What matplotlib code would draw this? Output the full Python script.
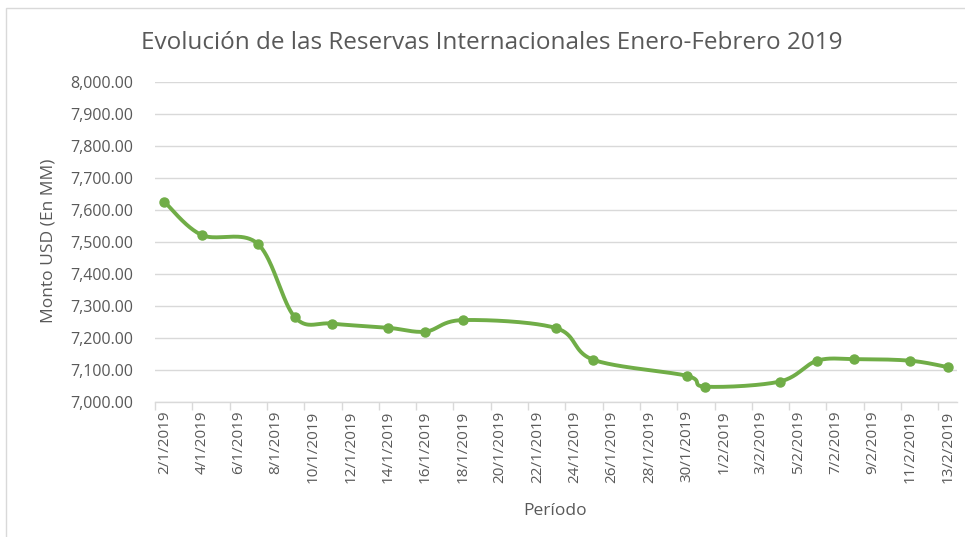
import matplotlib
matplotlib.use("Agg")
import matplotlib.pyplot as plt
import matplotlib.dates as mdates
import matplotlib.ticker as mticker
from matplotlib.patches import Rectangle
import numpy as np
from datetime import datetime, timedelta

# ---- data ----
dates = ["2/1/2019", "4/1/2019", "7/1/2019", "9/1/2019", "11/1/2019", "14/1/2019",
         "16/1/2019", "18/1/2019", "23/1/2019", "25/1/2019", "30/1/2019", "31/1/2019",
         "4/2/2019", "6/2/2019", "8/2/2019", "11/2/2019", "13/2/2019"]
values = [7626, 7522, 7495, 7265, 7245, 7232, 7220, 7256, 7231, 7132, 7082, 7048,
          7064, 7129, 7134, 7129, 7109]
title = "Evolución de las Reservas Internacionales Enero-Febrero 2019"
ylabel = "Monto USD (En MM)"
xlabel = "Período"
y_min, y_max, y_step = 7000, 8000, 100

plt.rcParams['font.family'] = ['Open Sans', 'DejaVu Sans']

dt = [datetime.strptime(d, "%d/%m/%Y") for d in dates]
xn = mdates.date2num(dt)
yv = np.array(values, dtype=float)

fig = plt.figure(figsize=(9.65, 5.37), dpi=100)
W, H = 965, 537
ax = fig.add_axes([155 / W, 1 - 402 / H, (957 - 155) / W, (402 - 82) / H])

# chart border
fig.patches.append(Rectangle((6 / W, -0.1), 1.2, (537 - 8) / H + 0.1, transform=fig.transFigure,
                             fill=False, edgecolor="#d9d9d9", linewidth=1.0))

start = xn[0] - 0.5
end = xn[-1] + 0.5
ax.set_xlim(start, end)
ax.set_ylim(y_min, y_max)

# smooth line (Excel-like Bezier smoothing) in display-scaled coordinates
sx = 18.65
sy = 0.319
P = np.column_stack([xn * sx, yv * sy])
curve = []
n = len(P)
for i in range(n - 1):
    p0 = P[i - 1] if i > 0 else P[i]
    p1 = P[i]
    p2 = P[i + 1]
    p3 = P[i + 2] if i + 2 < n else P[i + 1]
    c1 = p1 + (p2 - p0) / 6.0
    c2 = p2 - (p3 - p1) / 6.0
    t = np.linspace(0, 1, 40)[:, None]
    seg = ((1 - t) ** 3) * p1 + 3 * ((1 - t) ** 2) * t * c1 + 3 * (1 - t) * t ** 2 * c2 + t ** 3 * p2
    curve.append(seg if i == 0 else seg[1:])
curve = np.vstack(curve)
green = "#70AD47"
ax.plot(curve[:, 0] / sx, curve[:, 1] / sy, color=green, linewidth=2.8,
        solid_capstyle="round", zorder=3)
ax.plot(xn, yv, linestyle="none", marker="o", markersize=6.5, color=green, zorder=4)

# y axis
ax.yaxis.set_major_locator(mticker.MultipleLocator(y_step))
ax.yaxis.set_major_formatter(mticker.FuncFormatter(lambda v, p: f"{v:,.2f}"))
ax.grid(axis="y", color="#d9d9d9", linewidth=1.0)
ax.set_axisbelow(True)

# x axis: labels every 2 days at slot centres, tick marks at slot boundaries
label_dates = [dt[0] + timedelta(days=2 * k) for k in range(22)]
ax.set_xticks(mdates.date2num(label_dates))
ax.set_xticklabels([f"{d.day}/{d.month}/{d.year}" for d in label_dates], rotation=90)
ax.set_xticks(np.arange(start, end + 0.01, 2.0), minor=True)
ax.tick_params(axis="x", which="major", length=0, pad=6, labelsize=11, labelcolor="#595959")
ax.tick_params(axis="x", which="minor", length=6, color="#d9d9d9", width=1.0, direction="out")
ax.tick_params(axis="y", length=0, pad=16, labelsize=11.5, labelcolor="#595959")

for s in ["top", "right", "left"]:
    ax.spines[s].set_visible(False)
ax.spines["bottom"].set_color("#d9d9d9")
ax.spines["bottom"].set_linewidth(1.0)

fig.text(492 / W, 1 - 43 / H, title, ha="center", va="center", fontsize=17.5, color="#595959")
fig.text(49 / W, 1 - 241 / H, ylabel, ha="center", va="center", rotation=90, fontsize=12.5,
         color="#595959")
fig.text(555 / W, 1 - 511 / H, xlabel, ha="center", va="center", fontsize=12.5, color="#595959")

fig.savefig("out.png", dpi=100, facecolor="white")
